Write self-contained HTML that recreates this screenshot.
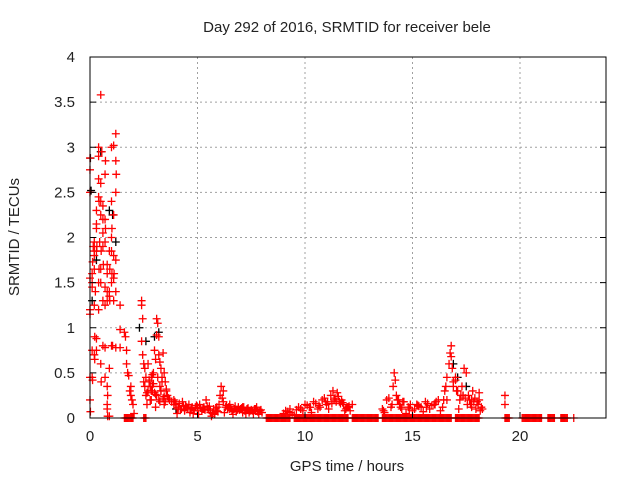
<!DOCTYPE html>
<html><head><meta charset="utf-8"><style>
body{margin:0;background:#fff}
svg text{font-family:"Liberation Sans","DejaVu Sans",sans-serif;font-size:15px;fill:#222}
</style></head><body>
<svg id="c" width="640" height="480">
<rect width="640" height="480" fill="#fff"/>
<g id="grid"></g><g id="marks"></g><g id="axes"></g>
</svg>
<script>
const xTicks=[0,5,10,15,20];
const yTicks=[0,0.5,1,1.5,2,2.5,3,3.5,4];
const yTickLabels=["0","0.5","1","1.5","2","2.5","3","3.5","4"];
const blackHours=[0.02,0.05,0.1,0.3,0.5,0.9,1.05,1.2,2.3,2.6,3.0,3.2,4.0,16.9,17.1,17.5];
const blackValues=[2.88,2.52,1.3,1.75,2.95,2.3,2.25,1.95,1.0,0.85,0.9,0.95,0.1,0.6,0.45,0.35];
const earlyHours=[0,0,0,0,0,0,0,0,0.02,0.1,0.1,0.1,0.1,0.12,0.1,0.15,0.12,0.2,0.2,0.2,0.22,0.2,0.22,0.2,0.25,0.2,0.3,0.3,0.3,0.32,0.3,0.3,0.3,0.4,0.4,0.42,0.4,0.4,0.4,0.4,0.42,0.45,0.5,0.5,0.5,0.52,0.5,0.5,0.5,0.52,0.5,0.55,0.6,0.6,0.6,0.62,0.6,0.6,0.6,0.7,0.7,0.72,0.7,0.7,0.7,0.7,0.72,0.7,0.8,0.8,0.8,0.8,0.8,0.82,0.8,0.82,0.8,0.9,0.92,0.9,0.9,0.92,0.9,0.9,1.0,1.0,1.02,1.0,1.0,1.02,1.0,1.0,1.05,1.1,1.1,1.1,1.12,1.1,1.1,1.2,1.2,1.2,1.22,1.2,1.2,1.2,1.4,1.4,1.4];
const earlyValues=[0.2,0.45,1.2,1.55,2.5,2.75,2.88,1.15,0.07,1.6,1.5,0.45,0.75,0.42,1.45,1.9,1.73,1.95,1.85,1.8,0.9,0.7,0.65,1.65,1.4,1.25,2.1,2.15,2.3,1.9,1.85,0.88,0.75,2.65,2.45,2.4,3.0,2.9,1.5,1.2,1.65,1.95,2.6,2.4,2.25,1.85,1.65,1.5,0.6,0.4,3.58,2.95,2.2,2.05,2.35,1.7,1.3,0.8,1.9,2.7,2.2,2.1,1.95,1.45,1.25,0.78,2.85,0.45,1.7,1.6,1.4,1.3,0.35,0.25,0.1,0.02,0.15,1.85,1.65,1.4,1.35,1.3,0.55,0.02,3.0,2.4,2.1,2.0,1.85,1.6,1.5,0.8,0.8,3.02,2.25,1.8,1.6,1.55,1.3,3.15,2.85,2.5,2.7,1.75,1.4,0.78,1.25,0.78,0.98];
const midHours=[1.6,1.65,1.7,1.75,1.8,1.85,1.9,1.95,2.0,2.05,1.7,1.9,2.4,2.4,2.45,2.4,2.45,2.5,2.55,2.6,2.7,2.75,2.8,2.85,2.9,2.95,3.0,3.05,3.1,3.1,3.15,3.2,3.2,3.25,3.3,3.35,3.4,3.45,3.5,3.55,2.6,2.7,2.8,2.9,3.0,3.1,3.2,3.3,3.4,3.5,2.65,2.85,3.05,3.25,3.45,2.5,2.9,3.3,3.6,3.7,3.8,3.9,2.55,2.75,2.95,3.15,3.35,3.55,2.65,2.85,3.05,3.25,3.45,3.65];
const midValues=[0.95,0.9,0.75,0.5,0.47,0.3,0.25,0.2,0.15,0.05,0.6,0.35,1.25,1.3,1.1,0.85,0.7,0.6,0.55,0.45,0.6,0.4,0.35,0.45,0.3,0.5,0.75,0.65,1.1,0.92,1.05,0.7,0.9,0.62,0.55,0.45,0.72,0.5,0.4,0.3,0.25,0.3,0.2,0.35,0.28,0.25,0.2,0.3,0.22,0.18,0.15,0.2,0.12,0.18,0.15,0.4,0.48,0.3,0.25,0.2,0.18,0.15,0.35,0.42,0.38,0.45,0.4,0.32,0.28,0.3,0.26,0.35,0.24,0.22];
const lowHours=[3.9,4.0,4.1,4.2,4.3,4.4,4.5,4.6,4.7,4.8,4.9,5.0,5.1,5.2,5.3,5.4,5.5,5.6,5.7,5.8,5.9,6.0,6.05,6.1,6.15,6.2,6.3,6.4,6.5,6.6,6.7,6.8,6.9,7.0,7.1,7.2,7.3,7.4,7.5,7.6,7.7,7.8,7.9,8.0,
4.05,4.25,4.45,4.65,4.85,5.05,5.25,5.45,5.65,5.85,6.25,6.45,6.65,6.85,7.05,7.25,7.45,7.65,7.85,
9.0,9.2,9.4,9.6,9.8,10.0,10.2,10.4,10.6,10.8,11.0,11.2,11.3,11.4,11.5,11.6,11.7,11.8,11.9,12.0,12.1,12.2,9.5,9.9,10.3,10.7,11.1,11.45,11.85,
13.6,13.8,14.0,14.1,14.15,14.2,14.3,14.4,14.5,14.6,14.8,15.0,15.2,15.4,15.6,15.8,16.0,16.2,16.4,13.7,14.25,14.7,15.1,15.5,15.9,16.3,
16.5,16.6,16.7,16.75,16.8,16.8,16.85,16.9,17.0,17.1,17.2,17.3,17.4,17.5,17.6,17.7,17.8,17.9,18.0,18.1,18.2,16.6,16.9,17.15,17.35,17.55,17.75,17.95,18.15,19.3,19.3];
const lowValues=[0.2,0.15,0.12,0.1,0.18,0.08,0.12,0.15,0.1,0.05,0.12,0.1,0.15,0.08,0.12,0.2,0.1,0.06,0.05,0.04,0.08,0.15,0.25,0.35,0.22,0.18,0.12,0.1,0.15,0.08,0.1,0.07,0.12,0.1,0.06,0.08,0.1,0.06,0.09,0.05,0.1,0.07,0.08,0.06,
0.05,0.1,0.14,0.06,0.08,0.04,0.1,0.13,0.02,0.1,0.06,0.12,0.04,0.09,0.11,0.05,0.08,0.1,0.04,
0.05,0.07,0.04,0.09,0.1,0.15,0.12,0.18,0.1,0.2,0.15,0.25,0.3,0.22,0.28,0.18,0.2,0.15,0.1,0.12,0.08,0.15,0.03,0.08,0.06,0.12,0.1,0.18,0.08,
0.1,0.2,0.12,0.35,0.5,0.42,0.2,0.15,0.1,0.18,0.12,0.08,0.15,0.12,0.18,0.1,0.15,0.2,0.12,0.06,0.25,0.05,0.1,0.07,0.14,0.08,
0.3,0.45,0.6,0.72,0.8,0.68,0.55,0.4,0.45,0.3,0.2,0.35,0.55,0.5,0.25,0.15,0.3,0.22,0.18,0.28,0.12,0.2,0.35,0.1,0.25,0.15,0.12,0.1,0.08,0.15,0.25];
const denseHours=[3.95,4.15,4.35,4.55,4.75,4.95,5.15,5.35,5.55,5.75,5.95,6.35,6.55,6.75,6.95,7.15,7.35,7.55,7.75,7.95,9.1,9.3,9.7,10.1,10.5,10.9,11.05,11.25,11.55,11.75,12.05,13.9,14.35,14.55,14.9,15.3,15.7,16.1,16.45,17.05,17.25,17.45,17.65,17.85,18.05,18.25,
4.1,4.4,4.7,5.0,5.3,5.6,5.9,6.2,6.5,6.8,7.1,7.4,7.7,9.3,9.8,10.25,10.65,10.95,11.35,11.65,11.95,13.65,14.05,14.45,14.85,15.25,15.65,16.05,16.55,17.0,17.35,17.75,18.1];
const denseValues=[0.18,0.16,0.13,0.1,0.12,0.14,0.11,0.09,0.13,0.1,0.07,0.14,0.11,0.13,0.09,0.12,0.11,0.08,0.12,0.09,0.08,0.1,0.12,0.14,0.16,0.22,0.18,0.16,0.24,0.17,0.13,0.22,0.2,0.18,0.15,0.13,0.16,0.18,0.2,0.3,0.25,0.22,0.2,0.18,0.15,0.1,
0.1,0.09,0.11,0.12,0.1,0.08,0.12,0.3,0.1,0.09,0.12,0.08,0.1,0.06,0.1,0.12,0.14,0.18,0.2,0.16,0.12,0.08,0.15,0.12,0.1,0.14,0.12,0.15,0.35,0.42,0.25,0.2,0.2];
const zeroSpanStart=[1.6,2.5,8.2,9.5,12.2,13.6,17.0,19.3,20.1,21.3,21.9,22.5];
const zeroSpanEnd=[2.0,2.6,9.3,12.0,13.4,16.8,18.1,19.5,21.0,21.6,22.2,22.5];

const L=90,R=606,T=57,B=418,X0=0,X1=24,Y1=4;
const xs=h=>L+(h-X0)/(X1-X0)*(R-L);
const ys=v=>B-v/Y1*(B-T);
const NS="http://www.w3.org/2000/svg";
function mk(tag,at,parent){const e=document.createElementNS(NS,tag);for(const k in at)e.setAttribute(k,at[k]);parent.appendChild(e);return e;}
const grid=document.getElementById('grid'),marks=document.getElementById('marks'),axes=document.getElementById('axes');
xTicks.forEach(t=>{
 if(t>0){const g=mk('line',{x1:xs(t),x2:xs(t),y1:T,y2:B,stroke:'#a0a0a0','stroke-dasharray':'2,3'},grid);
 
 }
 const tk=mk('line',{x1:xs(t),x2:xs(t),y1:B,y2:B-6,stroke:'#000'},axes);
 
 
 const tx=mk('text',{x:xs(t),y:B+23,'text-anchor':'middle'},axes);tx.textContent=t;
 
 
});
yTicks.forEach((t,i)=>{
 if(t>0&&t<Y1){const g=mk('line',{x1:L,x2:R,y1:ys(t),y2:ys(t),stroke:'#a0a0a0','stroke-dasharray':'2,3'},grid);
 
 }
 const tk=mk('line',{x1:L,x2:L+6,y1:ys(t),y2:ys(t),stroke:'#000'},axes);
 
 
 const tk2=mk('line',{x1:R,x2:R-6,y1:ys(t),y2:ys(t),stroke:'#000'},axes);
 
 
 const tx=mk('text',{x:L-15,y:ys(t)+5,'text-anchor':'end'},axes);tx.textContent=yTickLabels[i];
 
 
});
function plus(h,v,col,name){
 const x=xs(h),y=ys(v);
 const p=mk('path',{d:`M${x-4},${y}H${x+4}M${x},${y-4}V${y+4}`,stroke:col,'stroke-width':1.3,fill:'none'},marks);
 
 
}
blackHours.forEach((h,i)=>plus(h,blackValues[i],'#000','black-point'));
earlyHours.forEach((h,i)=>plus(h,earlyValues[i],'#f00','red-point'));
midHours.forEach((h,i)=>plus(h,midValues[i],'#f00','red-point'));
lowHours.forEach((h,i)=>plus(h,lowValues[i],'#f00','red-point'));
denseHours.forEach((h,i)=>plus(h,denseValues[i],'#f00','red-point'));
zeroSpanStart.forEach((s,i)=>{for(let h=s;h<=zeroSpanEnd[i]+1e-6;h+=0.05)plus(h,0,'#f00','red-zero-point');});
const fr=mk('rect',{x:L,y:T,width:R-L,height:B-T,fill:'none',stroke:'#000','stroke-width':1},axes);


</script>
<div style="position:absolute;left:0;top:0;width:640px;height:480px;pointer-events:none">
<svg width="640" height="480">
<text x="347" y="32" text-anchor="middle" style="font-family:'Liberation Sans',sans-serif;font-size:15px;fill:#222">Day 292 of 2016, SRMTID for receiver bele</text>
<text x="347" y="471" text-anchor="middle" style="font-family:'Liberation Sans',sans-serif;font-size:15px;fill:#222">GPS time / hours</text>
<text x="19" y="237" text-anchor="middle" transform="rotate(-90 19 237)" style="font-family:'Liberation Sans',sans-serif;font-size:15px;fill:#222">SRMTID / TECUs</text>
</svg></div>
</body></html>
